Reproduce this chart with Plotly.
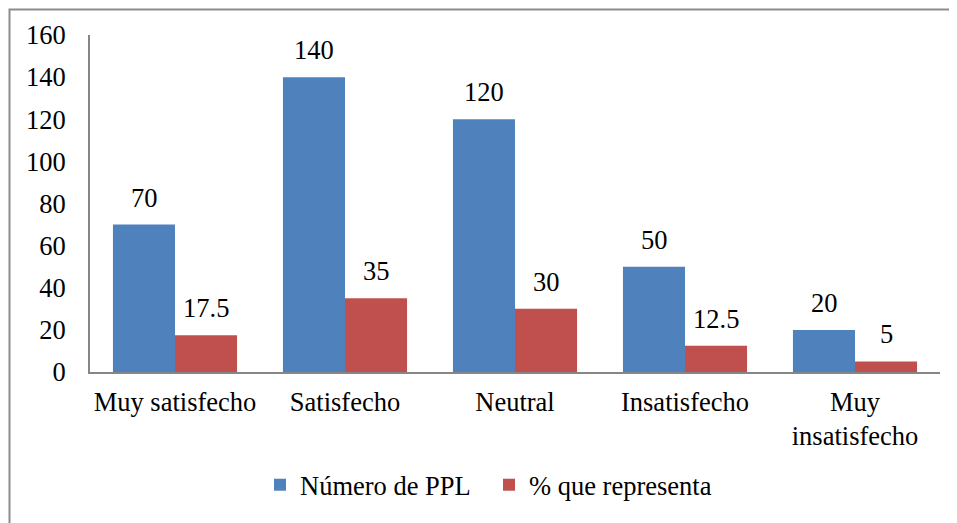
import plotly.graph_objects as go

categories = ["Muy satisfecho", "Satisfecho", "Neutral", "Insatisfecho", "Muy<br>insatisfecho"]
numero_ppl = [70, 140, 120, 50, 20]
porcentaje = [17.5, 35, 30, 12.5, 5]
series_names = ["Número de PPL", "% que representa"]
y_ticks = [0, 20, 40, 60, 80, 100, 120, 140, 160]

BLUE = "#4F81BD"
RED = "#C0504D"
FONT = "Liberation Serif"
FS = 26.5

# page offset caused by default body margin
OFF = 8
W, H = 957 - OFF, 523 - OFF
# plot area in page pixels: x 90..940, y 35..372
L, T = 90 - OFF, 35 - OFF
R = W - (940 - OFF)
B = H - (372 - OFF)

fig = go.Figure()
fig.add_trace(go.Bar(x=categories, y=numero_ppl, name=series_names[0],
                     marker=dict(color=BLUE, line=dict(width=0))))
fig.add_trace(go.Bar(x=categories, y=porcentaje, name=series_names[1],
                     marker=dict(color=RED, line=dict(width=0))))

annotations = []
for vals, dx in ((numero_ppl, -31), (porcentaje, 31)):
    for cat, v in zip(categories, vals):
        annotations.append(dict(x=cat, y=v, xref="x", yref="y", text=f"{v:g}",
                                showarrow=False, yanchor="bottom", xshift=dx, yshift=10,
                                font=dict(family=FONT, size=FS, color="black")))

pw = 940 - 90
ph = 372 - 35
def px_x(p):
    return (p - 90) / pw
def px_y(p):
    return (372 - p) / ph

fig.add_shape(type="rect", xref="paper", yref="paper",
              x0=px_x(9.5), x1=px_x(990), y0=px_y(9.5), y1=px_y(560),
              line=dict(color="#8C8C8C", width=2), fillcolor="rgba(0,0,0,0)", layer="below")

fig.update_layout(
    width=W, height=H,
    margin=dict(l=L, r=R, t=T, b=B, autoexpand=False),
    paper_bgcolor="white", plot_bgcolor="white",
    barmode="group", bargap=0.27, bargroupgap=0,
    font=dict(family=FONT, size=FS, color="black"),
    showlegend=True,
    legend=dict(orientation="h", x=px_x(260), xanchor="left", y=px_y(461), yanchor="top",
                font=dict(family=FONT, size=FS, color="black"),
                entrywidth=184, tracegroupgap=0, traceorder="normal"),
    annotations=annotations,
    xaxis=dict(showline=True, linecolor="#868686", linewidth=2, ticks="",
               showgrid=False, tickfont=dict(family=FONT, size=FS),
               ticklabelstandoff=5, zeroline=False),
    yaxis=dict(range=[0, 160], tickvals=y_ticks, showline=True, linecolor="#868686",
               linewidth=2, ticks="", showgrid=False, zeroline=False,
               tickfont=dict(family=FONT, size=FS), ticklabelstandoff=17),
)

fig.write_html("out.html")
